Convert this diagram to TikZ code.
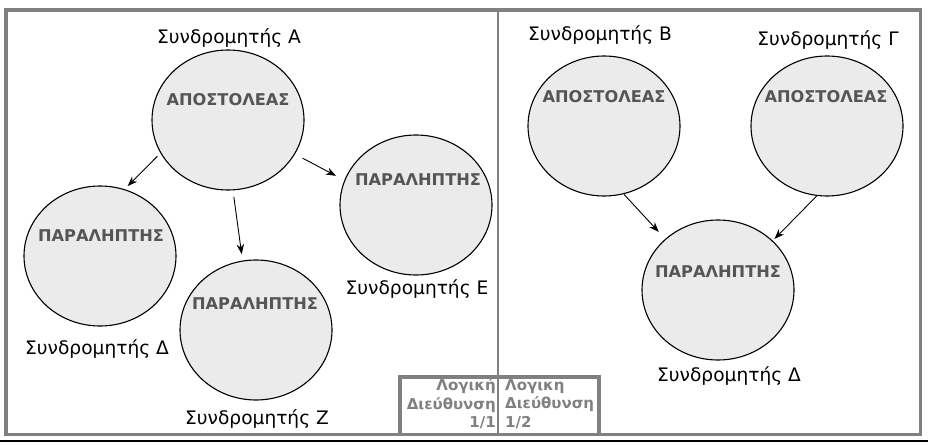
\documentclass[tikz,border=0pt]{standalone}
\usepackage{fontspec}
\setmainfont{DejaVu Sans}
\usetikzlibrary{shapes.geometric,arrows.meta}
\definecolor{ellfill}{HTML}{EBEBEB}
\definecolor{roletext}{HTML}{555555}
\definecolor{framegray}{HTML}{808080}
\definecolor{addrgray}{HTML}{808080}
\begin{document}
\begin{tikzpicture}[x=1pt,y=-1pt,
  ell/.style={ellipse,draw=black,line width=1.1pt,fill=ellfill,minimum width=152pt,minimum height=140pt,inner sep=0pt,outer sep=0pt},
  role/.style={font=\fontsize{16.2}{19}\selectfont\bfseries,text=roletext,inner sep=0pt},
  sub/.style={font=\fontsize{18.6}{22}\selectfont,inner sep=0pt},
  arr/.style={line width=0.9pt,-{Stealth[length=10pt,width=7.5pt]}},
  frameline/.style={draw=framegray,line width=3.5pt},
  addr/.style={font=\fontsize{15}{18.5}\selectfont\bfseries,text=addrgray,inner sep=0pt}]
\useasboundingbox (0,0) rectangle (928,444);
% frame
\draw[frameline] (6,10) rectangle (920.5,434.5);
\draw[draw=framegray,line width=2.5pt] (498,10) -- (498,434.5);
\draw[frameline] (400,377) rectangle (599,434.5);
\draw[line width=1.5pt] (0,441) -- (928,441);
% ellipses
\node[ell] (A) at (228,120) {};
\node[ell] (D) at (100,256) {};
\node[ell] (Z) at (256,330) {};
\node[ell] (E) at (416,205) {};
\node[ell] (B) at (604,126) {};
\node[ell] (G) at (827,126) {};
\node[ell] (Dr) at (718,290) {};
% role texts
\node[role] (tA) at (228,100) {ΑΠΟΣΤΟΛΕΑΣ};
\node[role] (tD) at (101,236) {ΠΑΡΑΛΗΠΤΗΣ};
\node[role] (tZ) at (255,304) {ΠΑΡΑΛΗΠΤΗΣ};
\node[role] (tE) at (418,180) {ΠΑΡΑΛΗΠΤΗΣ};
\node[role] (tB) at (604,97) {ΑΠΟΣΤΟΛΕΑΣ};
\node[role] (tG) at (826,97) {ΑΠΟΣΤΟΛΕΑΣ};
\node[role] (tDr) at (718,272) {ΠΑΡΑΛΗΠΤΗΣ};
% subscriber labels
\node[sub] (lA) at (229,38) {Συνδρομητής Α};
\node[sub] (lD) at (97,349) {Συνδρομητής Δ};
\node[sub] (lZ) at (257,419) {Συνδρομητής Ζ};
\node[sub] (lE) at (417,289) {Συνδρομητής Ε};
\node[sub] (lB) at (600,35) {Συνδρομητής Β};
\node[sub] (lG) at (828,40) {Συνδρομητής Γ};
\node[sub] (lDr) at (729,376) {Συνδρομητής Δ};
% arrows
\draw[arr,shorten <=5pt,shorten >=5pt] (A.206) -- (D.70);
\draw[arr,shorten <=7pt,shorten >=7pt] (A.274.5) -- (Z.101);
\draw[arr,shorten <=9pt,shorten >=10pt] (A.333.7) -- (E.161.6);
\draw[arr,shorten <=1pt,shorten >=10pt] (B.286) -- (Dr.136);
\draw[arr,shorten <=1pt,shorten >=3pt] (G.262) -- (Dr.42);
% address labels
\node[addr,align=right,anchor=east] (ad1) at (496,404) {Λογική\\Διεύθυνση\\1/1};
\node[addr,align=left,anchor=west] (ad2) at (505,404) {Λογικη\\Διεύθυνση\\1/2};
\end{tikzpicture}
\end{document}
